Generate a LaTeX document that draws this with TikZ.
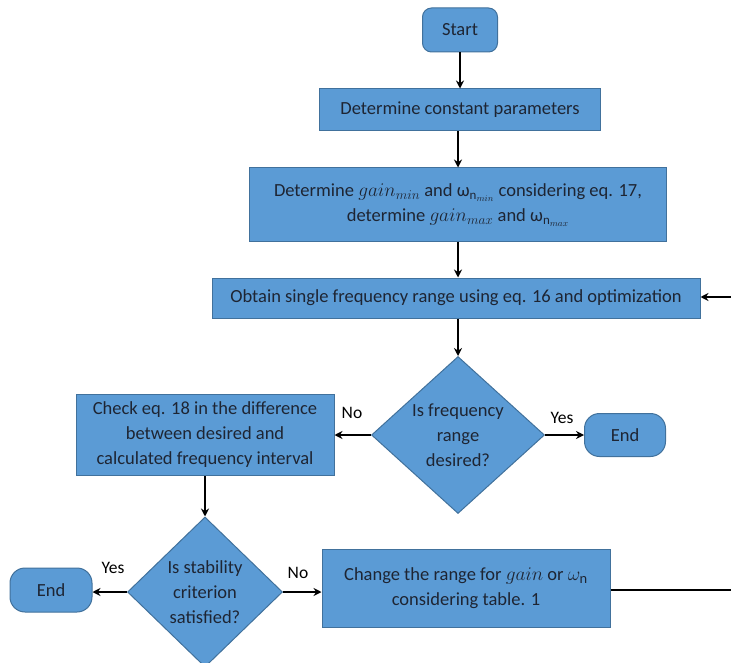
\documentclass[tikz,border=0pt]{standalone}
\usepackage{fontspec}
\setmainfont{Carlito}
\usetikzlibrary{shapes.geometric,arrows.meta}
\definecolor{boxfill}{HTML}{5B9BD5}
\definecolor{boxline}{HTML}{41719C}
\definecolor{txt}{HTML}{1E2533}
\newcommand{\bigmath}[1]{\scalebox{1.12}{$#1$}}
\begin{document}
\begin{tikzpicture}[x=1pt,y=-1pt,
  every node/.style={font=\fontsize{18.5}{25}\selectfont, text=txt},
  proc/.style={draw=boxline, fill=boxfill, line width=1pt, inner sep=0pt, align=center},
  term/.style={proc, rounded corners=9pt},
  endterm/.style={proc, rounded corners=15pt},
  decision/.style={draw=boxline, fill=boxfill, line width=1pt, shape=diamond, inner sep=0pt, align=center, aspect=1},
  conn/.style={line width=1.4pt, black, -{Stealth[length=8pt,width=8pt]}},
  plain/.style={line width=1.4pt, black},
  lbl/.style={font=\fontsize{17.5}{20}\selectfont, text=black}]
\useasboundingbox (0,0) rectangle (731,663);
\node[term, minimum width=75pt, minimum height=44pt] (start) at (460,30) {Start};
\node[proc, minimum width=281pt, minimum height=42pt] (const) at (460,110) {Determine constant parameters};
\node[proc, minimum width=417pt, minimum height=74pt] (det) at (458,205)
  {Determine \bigmath{gain_{min}} and ω$_{\mathrm{n}_{min}}$ considering eq. 17,\\
   determine \bigmath{gain_{max}} and ω$_{\mathrm{n}_{max}}$};
\node[proc, minimum width=488pt, minimum height=40pt] (obtain) at (456,298) {Obtain single frequency range using eq. 16 and optimization};
\node[decision, minimum width=173pt, minimum height=157pt] (dia1) at (458,435) {Is frequency\\range\\desired?};
\node[proc, minimum width=258pt, minimum height=81pt] (check) at (205,435) {Check eq. 18 in the difference\\between desired and\\calculated frequency interval};
\node[endterm, minimum width=81pt, minimum height=43pt] (end1) at (625,435) {End};
\node[decision, minimum width=155pt, minimum height=150pt] (dia2) at (205,592) {Is stability\\criterion\\satisfied?};
\node[endterm, minimum width=82pt, minimum height=44pt] (end2) at (51,590) {End};
\node[proc, minimum width=288pt, minimum height=78pt] (change) at (466,588) {Change the range for \bigmath{gain} or \bigmath{\omega_{\mathrm{n}}}\\considering table. 1};
\coordinate (fbin) at (731,297);
\coordinate (fbout) at (731,590);
\draw[conn] (start) -- (const);
\draw[conn] (const.south -| det.north) -- (det.north);
\draw[conn] (det.south) -- (det.south |- obtain.north);
\draw[conn] (obtain.south -| dia1.north) -- (dia1.north);
\draw[conn] (fbin) -- (obtain.east |- fbin);
\draw[conn] (dia1.west) -- (check.east |- dia1.west);
\draw[conn] (dia1.east) -- (end1.west);
\draw[conn] (check) -- (dia2);
\draw[conn] (dia2.west) -- (end2.east |- dia2.west);
\draw[conn] (dia2.east) -- (change.west |- dia2.east);
\draw[plain] (change.east |- fbout) -- (fbout);
\node[lbl] (no1) at (352,413) {No};
\node[lbl] (yes1) at (562,418) {Yes};
\node[lbl] (yes2) at (113,568) {Yes};
\node[lbl] (no2) at (298,573) {No};
\end{tikzpicture}
\end{document}
